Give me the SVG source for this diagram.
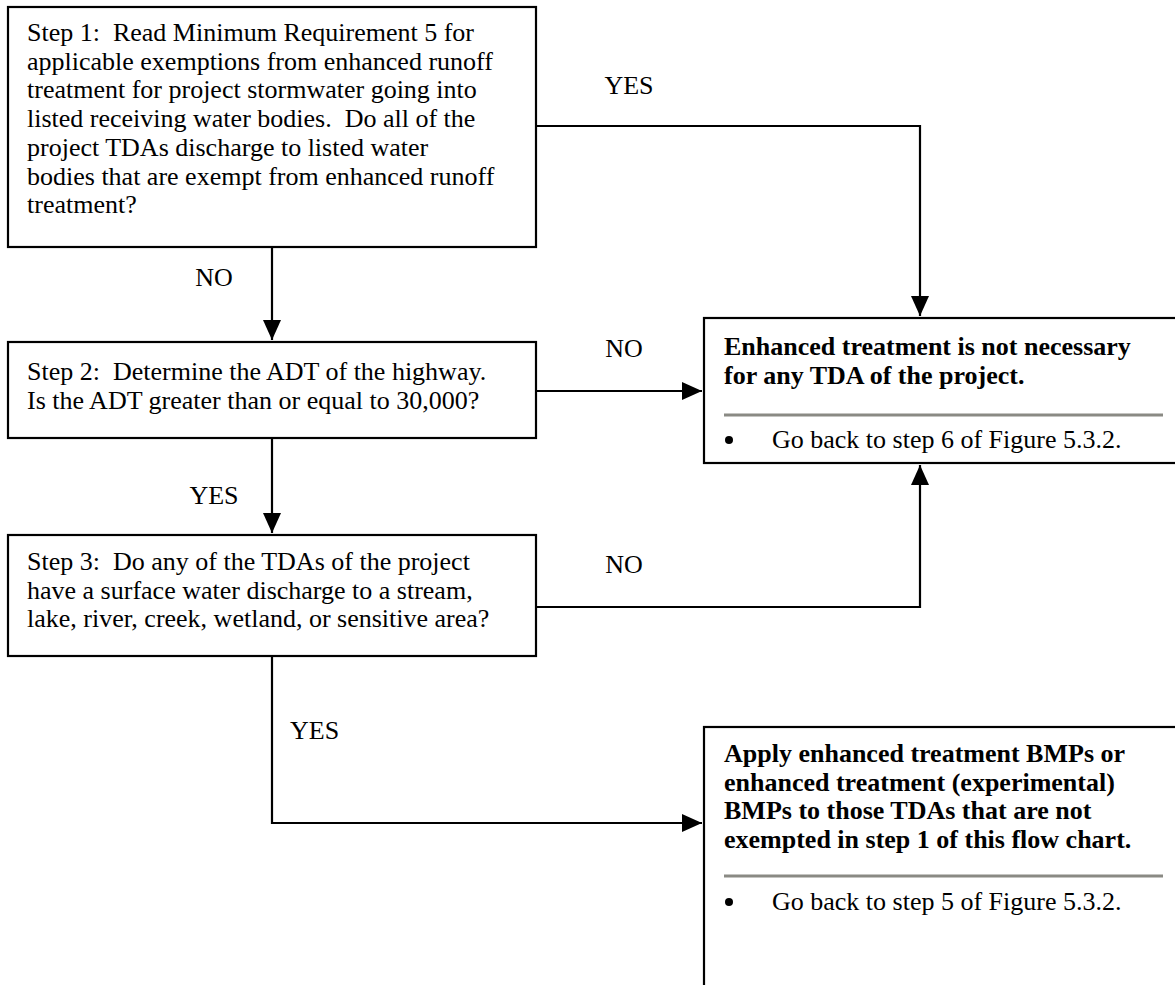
<svg xmlns="http://www.w3.org/2000/svg" width="1175" height="985" viewBox="0 0 1175 985">
<style>
.box{fill:#fff;stroke:#000;stroke-width:2.2}
.t{font-family:"Liberation Serif","Times New Roman",serif;font-size:26px;fill:#000;white-space:pre}
.b{font-family:"Liberation Serif","Times New Roman",serif;font-size:26px;font-weight:bold;fill:#000}
.dot{fill:#000}
.sep{stroke:#8a8a84;stroke-width:3}
.c{fill:none;stroke:#000;stroke-width:2.2}
</style>
<defs>
<marker id="ah" markerUnits="userSpaceOnUse" markerWidth="22" markerHeight="20" refX="20" refY="9" orient="auto">
<path d="M0,0 L20,9 L0,18 z" fill="#000"/>
</marker>
</defs>
<rect x="0" y="0" width="1175" height="985" fill="#fff"/>
<g id="connectors">
<path class="c" d="M536,126 H920 V316" marker-end="url(#ah)"/>
<path class="c" d="M272,247 V340" marker-end="url(#ah)"/>
<path class="c" d="M536,391 H702" marker-end="url(#ah)"/>
<path class="c" d="M272,438 V533" marker-end="url(#ah)"/>
<path class="c" d="M536,607 H920 V465" marker-end="url(#ah)"/>
<path class="c" d="M272,656 V823 H702" marker-end="url(#ah)"/>
<text class="t" x="629" y="94" text-anchor="middle">YES</text>
<text class="t" x="214" y="286" text-anchor="middle">NO</text>
<text class="t" x="624" y="357" text-anchor="middle">NO</text>
<text class="t" x="214" y="504" text-anchor="middle">YES</text>
<text class="t" x="624" y="573" text-anchor="middle">NO</text>
<text class="t" x="290" y="739">YES</text>
</g>
<g id="step1">
<rect class="box" x="8" y="7" width="528" height="240"/>
<text class="t" x="27" y="41" xml:space="preserve">Step 1:  Read Minimum Requirement 5 for</text>
<text class="t" x="27" y="69.7">applicable exemptions from enhanced runoff</text>
<text class="t" x="27" y="98.4">treatment for project stormwater going into</text>
<text class="t" x="27" y="127.1" xml:space="preserve">listed receiving water bodies.  Do all of the</text>
<text class="t" x="27" y="155.8">project TDAs discharge to listed water</text>
<text class="t" x="27" y="184.5">bodies that are exempt from enhanced runoff</text>
<text class="t" x="27" y="213.2">treatment?</text>
</g>
<g id="step2">
<rect class="box" x="8" y="342" width="528" height="96"/>
<text class="t" x="27" y="380" xml:space="preserve">Step 2:  Determine the ADT of the highway.</text>
<text class="t" x="27" y="408.7">Is the ADT greater than or equal to 30,000?</text>
</g>
<g id="step3">
<rect class="box" x="8" y="535" width="528" height="121"/>
<text class="t" x="27" y="570" xml:space="preserve">Step 3:  Do any of the TDAs of the project</text>
<text class="t" x="27" y="598.7">have a surface water discharge to a stream,</text>
<text class="t" x="27" y="627.4">lake, river, creek, wetland, or sensitive area?</text>
</g>
<g id="not-necessary">
<rect class="box" x="704" y="318" width="500" height="145"/>
<text class="b" x="724" y="355">Enhanced treatment is not necessary</text>
<text class="b" x="724" y="383.7">for any TDA of the project.</text>
<line class="sep" x1="724" y1="415" x2="1163" y2="415"/>
<circle class="dot" cx="729" cy="440" r="4"/>
<text class="t" x="772" y="448">Go back to step 6 of Figure 5.3.2.</text>
</g>
<g id="apply">
<rect class="box" x="704" y="727" width="500" height="300"/>
<text class="b" x="724" y="762">Apply enhanced treatment BMPs or</text>
<text class="b" x="724" y="790.7">enhanced treatment (experimental)</text>
<text class="b" x="724" y="819.4">BMPs to those TDAs that are not</text>
<text class="b" x="724" y="848.1">exempted in step 1 of this flow chart.</text>
<line class="sep" x1="724" y1="876" x2="1163" y2="876"/>
<circle class="dot" cx="729" cy="902" r="4"/>
<text class="t" x="772" y="910">Go back to step 5 of Figure 5.3.2.</text>
</g>
</svg>
